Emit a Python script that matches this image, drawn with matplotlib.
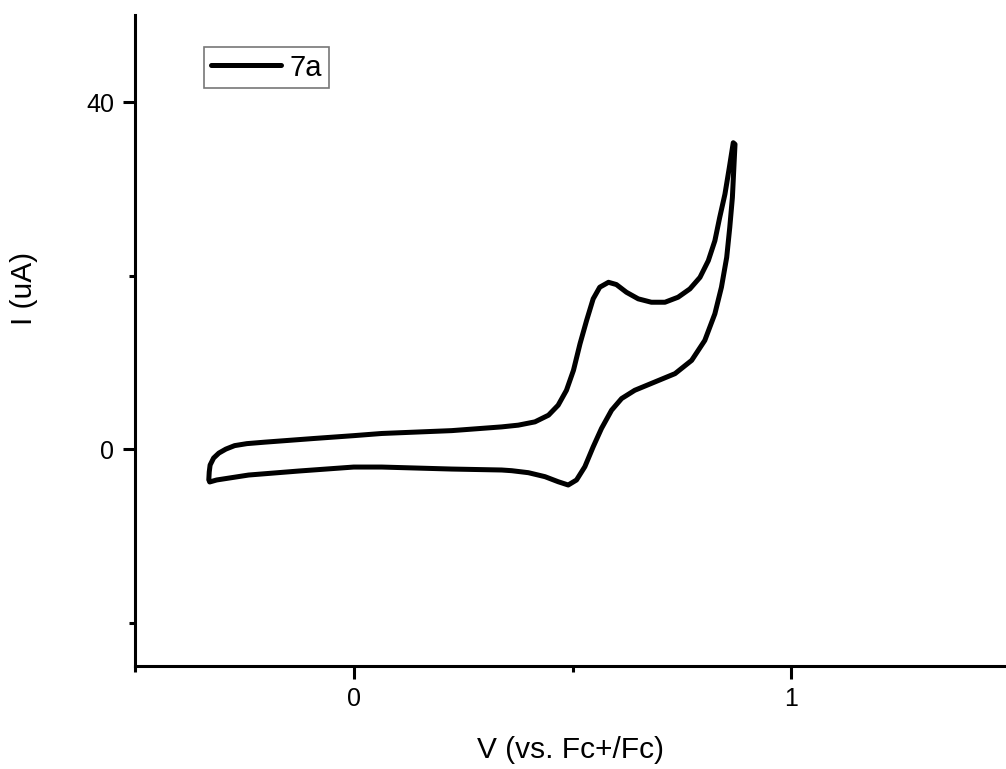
import matplotlib
matplotlib.use("Agg")
import matplotlib.pyplot as plt
from matplotlib.ticker import MultipleLocator

plt.rcParams['font.family'] = ['Liberation Sans', 'DejaVu Sans']

# Cyclic voltammogram of 7a: anodic sweep (left -> right), then cathodic return
forward_v = [-0.331, -0.330, -0.328, -0.320, -0.308, -0.292, -0.272, -0.244,
             -0.203, -0.089, 0.000, 0.064, 0.224, 0.338, 0.376, 0.414, 0.445,
             0.467, 0.486, 0.502, 0.517, 0.532, 0.547, 0.562, 0.582, 0.600,
             0.623, 0.650, 0.680, 0.711, 0.741, 0.768, 0.791, 0.810, 0.825,
             0.836, 0.848, 0.858, 0.867]
forward_i = [-3.56, -2.64, -1.84, -1.03, -0.46, 0.00, 0.40, 0.63,
             0.80, 1.23, 1.55, 1.80, 2.13, 2.56, 2.76, 3.14, 3.91,
             5.06, 6.78, 9.08, 12.15, 14.83, 17.32, 18.66, 19.23, 18.97,
             18.08, 17.32, 16.93, 16.93, 17.51, 18.47, 19.80, 21.72, 24.02,
             26.70, 29.39, 32.45, 35.32]
reverse_v = [0.871, 0.868, 0.865, 0.859, 0.852, 0.840, 0.825, 0.802, 0.772,
             0.734, 0.688, 0.642, 0.612, 0.589, 0.566, 0.547, 0.528, 0.509,
             0.490, 0.467, 0.437, 0.399, 0.361, 0.338, 0.224, 0.064, 0.000,
             -0.126, -0.240, -0.313, -0.329]
reverse_i = [35.14, 32.07, 29.00, 25.55, 22.10, 18.66, 15.60, 12.53, 10.23,
             8.70, 7.74, 6.78, 5.83, 4.48, 2.38, 0.26, -2.03, -3.56,
             -4.14, -3.76, -3.18, -2.72, -2.49, -2.41, -2.30, -2.07, -2.07,
             -2.53, -2.99, -3.56, -3.79]
series_label = "7a"

x_ticks = [0, 1]
y_ticks = [0, 40]

fig = plt.figure(figsize=(10.06, 7.69), dpi=100)
ax = fig.add_axes([0.134, 0.134, 0.866, 0.846])

v = forward_v + reverse_v
i = forward_i + reverse_i
ax.plot(v, i, color='black', lw=3.6, solid_joinstyle='round',
        solid_capstyle='round', label=series_label)

ax.set_xlim(-0.5, 1.49)
ax.set_ylim(-25, 50)
ax.set_xticks(x_ticks)
ax.set_yticks(y_ticks)
ax.xaxis.set_minor_locator(MultipleLocator(0.5))
ax.yaxis.set_minor_locator(MultipleLocator(20))

for side in ('top', 'right'):
    ax.spines[side].set_visible(False)
for side in ('left', 'bottom'):
    ax.spines[side].set_linewidth(2.2)

ax.tick_params(which='major', direction='out', length=9, width=2.2,
               labelsize=18, pad=6)
ax.tick_params(which='minor', direction='out', length=4.5, width=2.2)

ax.set_xlabel("V (vs. Fc+/Fc)", fontsize=21.5)
ax.set_ylabel("I (uA)", fontsize=21.5)
ax.xaxis.set_label_coords(0.5, -0.107)
ax.yaxis.set_label_coords(-0.111, 0.58)

leg = ax.legend(loc='upper left', bbox_to_anchor=(0.080, 0.951), fontsize=21,
                frameon=True, fancybox=False, handlelength=2.4,
                handletextpad=0.3, borderpad=0.22, borderaxespad=0)
leg.get_frame().set_edgecolor('#555555')
leg.get_frame().set_linewidth(1.2)

fig.savefig("out.png", dpi=100)
